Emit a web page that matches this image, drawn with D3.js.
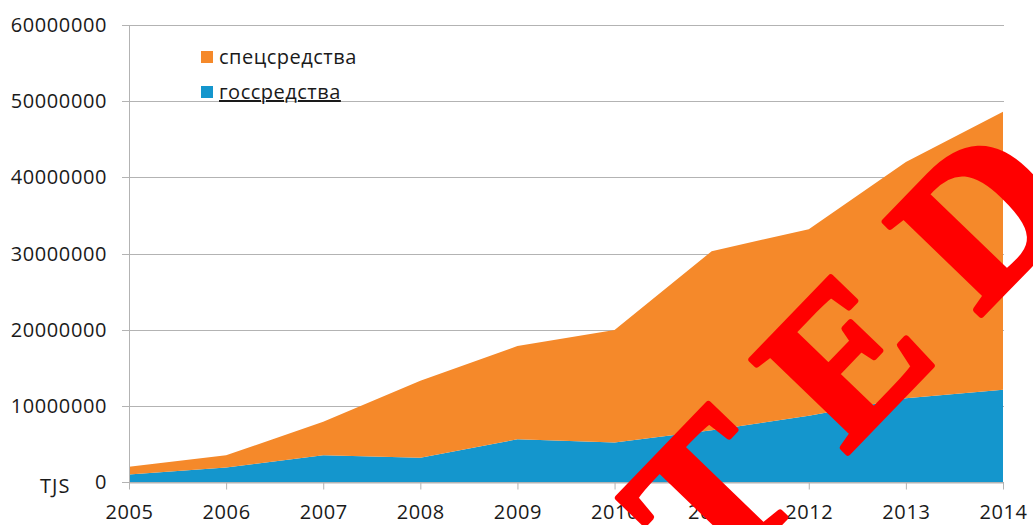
<!DOCTYPE html>
<html>
<head>
<meta charset="utf-8">
<script src="https://cdn.jsdelivr.net/npm/d3@7"></script>
<style>
  body { margin: 0; background: #fff; }
  text { font-family: "Open Sans", sans-serif; }
</style>
</head>
<body>
<div id="chart"></div>
<script>
var years = [2005, 2006, 2007, 2008, 2009, 2010, 2011, 2012, 2013, 2014];
var gosValues  = [1000000, 1900000, 3500000, 3200000, 5600000, 5200000, 6800000, 8700000, 11000000, 12100000];
var specValues = [1000000, 1600000, 4400000, 10100000, 12250000, 14750000, 23500000, 24500000, 31000000, 36500000];
var yTicks = [0, 10000000, 20000000, 30000000, 40000000, 50000000, 60000000];
var seriesKeys = ["gos", "spec"];
var seriesLabels = {spec: "спецсредства", gos: "госсредства"};
var seriesColors = {gos: "#1496cd", spec: "#f5892a"};

var W = 1033, H = 525;
var plotLeft = 129, plotRight = 1003, plotTop = 25, plotBottom = 482;

var svg = d3.select("#chart").append("svg")
  .attr("width", W)
  .attr("height", H);

var data = years.map(function(y, i) {
  return {year: y, gos: gosValues[i], spec: specValues[i]};
});

var x = d3.scaleLinear().domain([2005, 2014]).range([plotLeft, plotRight]);
var y = d3.scaleLinear().domain([0, 60000000]).range([plotBottom, plotTop]);

// gridlines
svg.append("g")
  .selectAll("line")
  .data(yTicks)
  .enter()
  .append("line")
    .attr("x1", plotLeft - 7)
    .attr("x2", plotRight + 1)
    .attr("y1", function(d) { return Math.round(y(d)) + 0.5; })
    .attr("y2", function(d) { return Math.round(y(d)) + 0.5; })
    .attr("stroke", "#b3b3b3")
    .attr("stroke-width", 1);

var stacked = d3.stack().keys(seriesKeys)(data);

var area = d3.area()
  .x(function(d) { return x(d.data.year); })
  .y0(function(d) { return y(d[0]); })
  .y1(function(d) { return y(d[1]); });

svg.append("g")
  .selectAll("path")
  .data(stacked)
  .enter()
  .append("path")
    .attr("fill", function(d) { return seriesColors[d.key]; })
    .attr("d", area);

// y axis line
svg.append("line")
  .attr("x1", plotLeft + 0.5).attr("x2", plotLeft + 0.5)
  .attr("y1", plotTop).attr("y2", plotBottom + 7)
  .attr("stroke", "#b3b3b3");

// x axis
var xAxis = svg.append("g")
  .attr("transform", "translate(0," + (Math.round(plotBottom) + 0.5) + ")")
  .call(d3.axisBottom(x).tickValues(years).tickFormat(d3.format("d")).tickSizeInner(7).tickSizeOuter(0).tickPadding(15));
xAxis.select(".domain").attr("stroke", "#b3b3b3");
xAxis.selectAll(".tick line").attr("stroke", "#b3b3b3");
xAxis.selectAll(".tick text")
  .attr("font-family", "Open Sans, sans-serif")
  .attr("font-size", "20px")
  .attr("letter-spacing", "0.6px")
  .attr("fill", "#1a1a1a");

// y labels
svg.append("g")
  .selectAll("text")
  .data(yTicks)
  .enter()
  .append("text")
    .attr("x", 107)
    .attr("y", function(d) { return y(d) + 7; })
    .attr("text-anchor", "end")
    .attr("font-size", "20px")
    .attr("letter-spacing", "0.6px")
    .attr("fill", "#1a1a1a")
    .text(function(d) { return d; });

svg.append("text")
  .attr("x", 40)
  .attr("y", 493)
  .attr("font-size", "20px")
  .attr("letter-spacing", "1px")
  .attr("fill", "#1a1a1a")
  .text("TJS");

// legend
var legendKeys = ["spec", "gos"];
var legend = svg.append("g");
legend.selectAll("rect")
  .data(legendKeys)
  .enter()
  .append("rect")
    .attr("x", 201)
    .attr("y", function(d, i) { return 51 + i * 35; })
    .attr("width", 12)
    .attr("height", 12)
    .attr("fill", function(d) { return seriesColors[d]; });
legend.selectAll("text")
  .data(legendKeys)
  .enter()
  .append("text")
    .attr("x", 219)
    .attr("y", function(d, i) { return 64 + i * 35; })
    .attr("font-size", "20px")
    .attr("letter-spacing", "0.5px")
    .attr("fill", "#1a1a1a")
    .style("text-decoration", function(d) { return d === "gos" ? "underline" : "none"; })
    .text(function(d) { return seriesLabels[d]; });

// red stamp
svg.append("text")
  .attr("transform", "translate(866,334) rotate(-46)")
  .attr("text-anchor", "middle")
  .attr("dominant-baseline", "central")
  .attr("font-weight", "bold")
  .attr("font-size", "205px")
  .attr("letter-spacing", "55px")
  .attr("fill", "#ff0000")
  .attr("stroke", "#ff0000")
  .attr("stroke-width", 6)
  .attr("stroke-linejoin", "round")
  .style("font-family", "'Liberation Serif', serif")
  .text("TED");
</script>
</body>
</html>
